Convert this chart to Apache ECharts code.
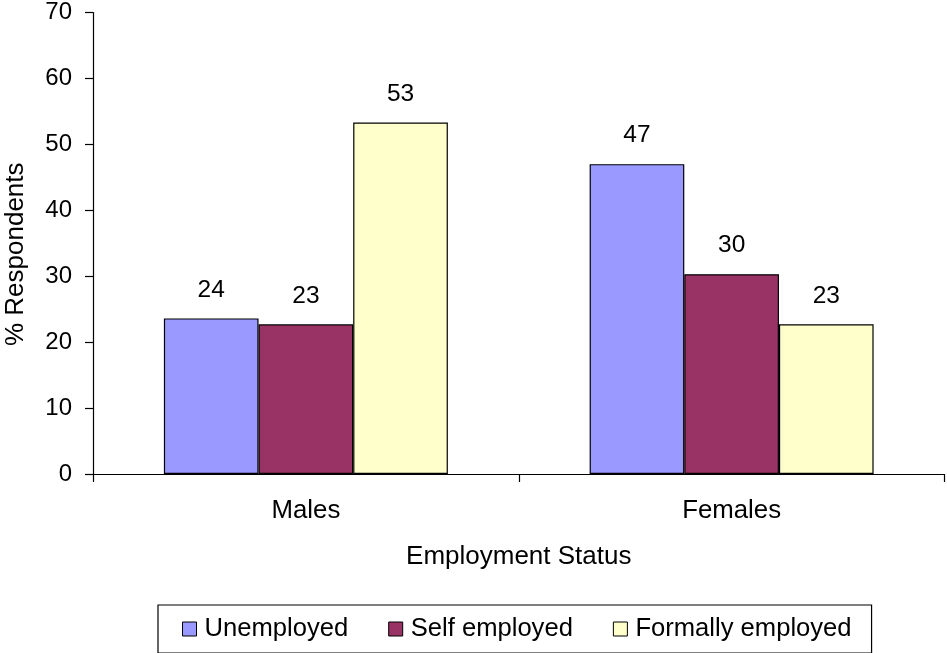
<!DOCTYPE html>
<html>
<head>
<meta charset="utf-8">
<script src="https://cdn.jsdelivr.net/npm/echarts@6/dist/echarts.min.js"></script>
<style>
html,body{margin:0;padding:0;background:#fff;}
#chart{width:947px;height:653px;}
</style>
</head>
<body>
<div id="chart"></div>
<script>
var categories = ['Males', 'Females'];
var seriesNames = ['Unemployed', 'Self employed', 'Formally employed'];
var unemployed = [23.6, 47.0];
var selfEmployed = [22.7, 30.3];
var formallyEmployed = [53.3, 22.7];
var yTicks = [0, 10, 20, 30, 40, 50, 60, 70];

var colors = ['#9999FF', '#993366', '#FFFFCC'];
var FONT = '"Liberation Sans", Arial, sans-serif';

var chart = echarts.init(document.getElementById('chart'), null, {renderer: 'canvas'});

function barSeries(name, data, color) {
  return {
    name: name,
    type: 'bar',
    data: data,
    barGap: '0%',
    barCategoryGap: '33.3%',
    itemStyle: {color: color, borderColor: '#000', borderWidth: 1.2},
    label: {
      show: true,
      position: 'top',
      distance: 16,
      color: '#000',
      fontFamily: FONT,
      fontSize: 24.5,
      formatter: function (p) { return Math.round(p.value); }
    }
  };
}

chart.setOption({
  animation: false,
  backgroundColor: '#fff',
  textStyle: {fontFamily: FONT, color: '#000'},
  grid: {left: 93, right: 2.5, top: 12.5, bottom: 179, containLabel: false, outerBoundsMode: 'none'},
  xAxis: {
    type: 'category',
    data: categories,
    name: 'Employment Status',
    nameLocation: 'middle',
    nameGap: 70,
    nameTextStyle: {fontFamily: FONT, fontSize: 26, color: '#000'},
    axisLine: {lineStyle: {color: '#000', width: 1.2}},
    axisTick: {show: true, length: 8, lineStyle: {color: '#000', width: 1.2}},
    axisLabel: {margin: 24, fontFamily: FONT, fontSize: 25.8, color: '#000'},
    splitLine: {show: false}
  },
  yAxis: {
    type: 'value',
    min: yTicks[0],
    max: yTicks[yTicks.length - 1],
    interval: yTicks[1] - yTicks[0],
    name: '% Respondents',
    nameLocation: 'middle',
    nameGap: 64,
    nameRotate: 90,
    nameTextStyle: {fontFamily: FONT, fontSize: 26, color: '#000', padding: [0, 22, 0, 0]},
    axisLine: {show: true, lineStyle: {color: '#000', width: 1.2}},
    axisTick: {show: true, length: 8, lineStyle: {color: '#000', width: 1.2}},
    axisLabel: {margin: 21, fontFamily: FONT, fontSize: 24, color: '#000'},
    splitLine: {show: false}
  },
  legend: {
    data: seriesNames,
    left: 158,
    top: 605,
    orient: 'horizontal',
    itemWidth: 14,
    itemHeight: 14,
    itemGap: 40,
    icon: 'rect',
    borderColor: '#000',
    borderWidth: 1.2,
    padding: [11, 20, 11, 24],
    itemStyle: {borderColor: '#000', borderWidth: 1},
    textStyle: {fontFamily: FONT, fontSize: 25.6, color: '#000', padding: [0, 0, 0, 3]}
  },
  series: [
    barSeries(seriesNames[0], unemployed, colors[0]),
    barSeries(seriesNames[1], selfEmployed, colors[1]),
    barSeries(seriesNames[2], formallyEmployed, colors[2])
  ]
});
</script>
</body>
</html>
